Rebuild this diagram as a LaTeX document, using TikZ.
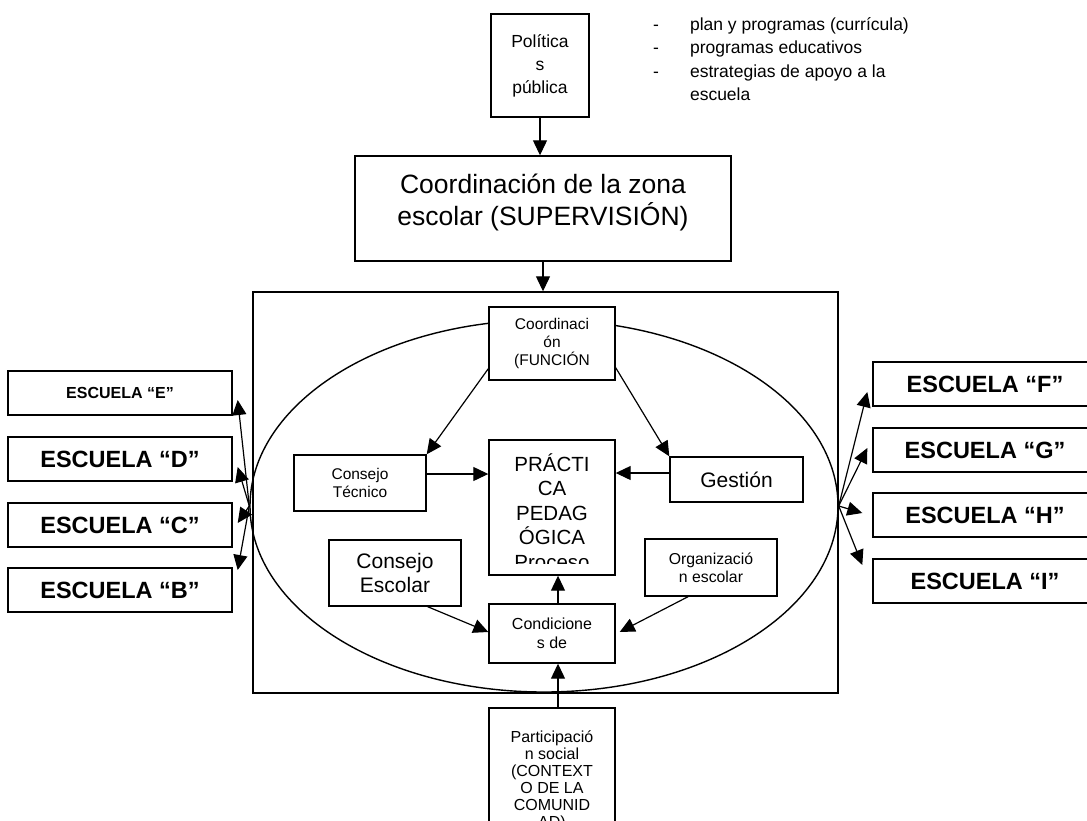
\documentclass[tikz,border=0pt]{standalone}
\usepackage{fontspec}
\setmainfont{Liberation Sans}
\usetikzlibrary{arrows.meta,shapes.geometric}
\newcommand{\tam}[2]{\fontsize{#1}{#2}\selectfont}
\tikzset{
  caja/.style={draw, fill=white, line width=1.4pt, inner sep=0pt, align=center},
  texto/.style={draw=none, fill=none, minimum width=0pt, minimum height=0pt, anchor=north, align=center, inner sep=0pt},
  escuela/.style={caja, minimum width=224pt, minimum height=44pt, font=\bfseries\tam{23.5}{28}},
  flecha/.style={-{Triangle[length=15pt,width=14pt]}, line width=1.2pt},
}
\begin{document}
\begin{tikzpicture}[x=1pt,y=-1pt]
\useasboundingbox (0,0) rectangle (1087,820);
\clip (0,0) rectangle (1087,820);

\node[draw, line width=1.4pt, inner sep=0pt, minimum width=585pt, minimum height=401pt] (marco) at (545.5,492.5) {};
\node[draw, ellipse, line width=1.4pt, inner sep=0pt, minimum width=588pt, minimum height=372pt] (ovalo) at (544,506) {};

\node[caja, minimum width=98pt, minimum height=103pt, font=\tam{17.5}{23}] (politica) at (540,65.5) {Política\\s\\pública};
\node[anchor=base west, inner sep=0pt, font=\tam{17.5}{23.5}] (lista) at (653,30) {\begin{tabular}[t]{@{}l@{\hspace{31pt}}l@{}}-&plan y programas (currícula)\\-&programas educativos\\-&estrategias de apoyo a la\\&escuela\end{tabular}};

\node[caja, minimum width=376pt, minimum height=105pt,
  path picture={\node[texto, font=\tam{26.5}{32}] (zonatexto) at ([yshift=-17pt]path picture bounding box.north) {Coordinación de la zona\\escolar (SUPERVISIÓN)};}] (zona) at (543,208.5) {};

\node[caja, minimum width=126pt, minimum height=73pt, font=\tam{15.5}{18}] (funcion) at (552,343.5) {Coordinaci\\ón\\(FUNCIÓN};
\node[caja, minimum width=132pt, minimum height=56pt, font=\tam{15.5}{17.5}] (tecnico) at (360,483) {Consejo\\Técnico};
\node[caja, minimum width=126pt, minimum height=135pt,
  path picture={\clip (path picture bounding box.north west) rectangle ([yshift=12pt]path picture bounding box.south east);
    \node[texto, font=\tam{20.5}{24.5}] (practexto) at ([yshift=-13pt]path picture bounding box.north) {PRÁCTI\\CA\\PEDAG\\ÓGICA\\Proceso};}] (practica) at (552,507.5) {};
\node[caja, minimum width=133pt, minimum height=45pt, font=\tam{21}{24}] (gestion) at (736.5,479.5) {Gestión};
\node[caja, minimum width=132pt, minimum height=66pt, font=\tam{21}{24}] (escolar) at (395,573) {Consejo\\Escolar};
\node[caja, minimum width=132pt, minimum height=57pt, font=\tam{15.8}{18}] (organiza) at (711,567.5) {Organizació\\n escolar};
\node[caja, minimum width=126pt, minimum height=59pt, font=\tam{16}{19}] (condicion) at (552,633.5) {Condicione\\s de};
\node[caja, minimum width=126pt, minimum height=152pt,
  path picture={\node[texto, font=\tam{16}{17}] (socialtexto) at ([yshift=-22pt]path picture bounding box.north) {Participació\\n social\\(CONTEXT\\O DE LA\\COMUNID\\AD)};}] (social) at (552,784) {};

\node[escuela, font=\bfseries\tam{16}{19}] (escE) at (120,393) {ESCUELA “E”};
\node[escuela] (escD) at (120,459) {ESCUELA “D”};
\node[escuela] (escC) at (120,525) {ESCUELA “C”};
\node[escuela] (escB) at (120,590) {ESCUELA “B”};
\node[escuela] (escF) at (985,384) {ESCUELA “F”};
\node[escuela] (escG) at (985,450) {ESCUELA “G”};
\node[escuela] (escH) at (985,515) {ESCUELA “H”};
\node[escuela] (escI) at (985,581) {ESCUELA “I”};

\draw[flecha] (politica.south) -- (politica.south |- zona.north);
\draw[flecha] (zona.south) -- (zona.south |- marco.north);
\draw[flecha] ([yshift=12pt]funcion.south west) -- (tecnico.north east);
\draw[flecha] ([yshift=13pt]funcion.south east) -- (gestion.north west);
\coordinate (t1) at ([yshift=9pt]tecnico.east);
\coordinate (g1) at ([yshift=6.5pt]gestion.west);
\draw[flecha] (t1) -- (t1 -| practica.west);
\draw[flecha] (g1) -- (g1 -| practica.east);
\draw[flecha] ([xshift=-34pt]escolar.south east) -- ([yshift=1.5pt]condicion.west);
\draw[flecha] ([xshift=-23pt]organiza.south) -- ([xshift=4pt,yshift=1.5pt]condicion.east);
\draw[flecha] ([xshift=6pt]condicion.north) -- ([xshift=6pt]practica.south);
\draw[flecha] ([xshift=6pt]social.north) -- ([xshift=6pt]condicion.south);

\draw[flecha] (ovalo.west) -- ([xshift=5pt,yshift=-7pt]escE.east);
\draw[flecha] (ovalo.west) -- ([xshift=5pt,yshift=-8pt]escD.east);
\draw[flecha] (ovalo.west) -- ([xshift=5pt,yshift=2pt]escC.east);
\draw[flecha] (ovalo.west) -- ([xshift=5pt,yshift=20pt]escB.east);
\draw[flecha] (ovalo.east) -- ([xshift=-5pt,yshift=-8pt]escF.west);
\draw[flecha] (ovalo.east) -- ([xshift=-5pt,yshift=2pt]escG.west);
\draw[flecha] (ovalo.east) -- ([xshift=-10pt,yshift=2pt]escH.west);
\draw[flecha] (ovalo.east) -- ([xshift=-10pt,yshift=16pt]escI.west);
\end{tikzpicture}
\end{document}
